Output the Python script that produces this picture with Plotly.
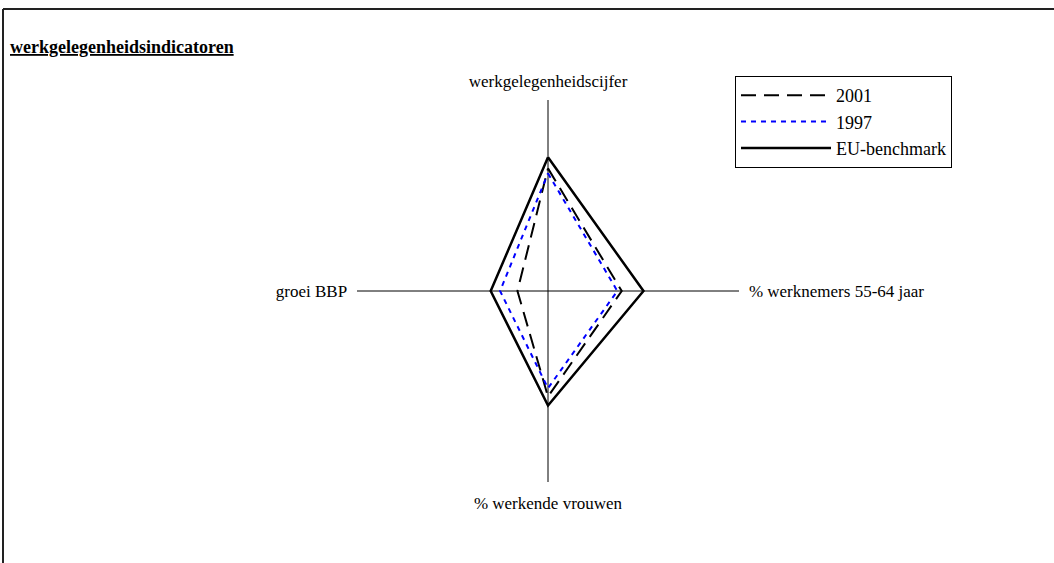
import plotly.graph_objects as go

categories = ["werkgelegenheidscijfer", "% werknemers 55-64 jaar", "% werkende vrouwen", "groei BBP"]
series_names = ["2001", "1997", "EU-benchmark"]
values_2001 = [64.2, 38.6, 55.3, 16.0]
values_1997 = [61.6, 36.3, 50.9, 25.1]
values_eu = [70, 50, 60, 30]
title_text = "werkgelegenheidsindicatoren"

FONT = "Liberation Serif, Times New Roman, serif"

styles = {
    "2001": dict(color="#000000", width=2, dash="15px,8px"),
    "1997": dict(color="#0000FF", width=2, dash="5px,5px"),
    "EU-benchmark": dict(color="#000000", width=2.5, dash="solid"),
}
data = {"2001": values_2001, "1997": values_1997, "EU-benchmark": values_eu}

fig = go.Figure()
for name in series_names:
    vals = data[name]
    fig.add_trace(go.Scatterpolar(
        r=vals + vals[:1],
        theta=categories + categories[:1],
        mode="lines",
        name=name,
        line=styles[name],
    ))

W, H = 1054, 563
cx, cy, rad = 548, 291, 191
fig.update_layout(
    width=W, height=H,
    margin=dict(l=0, r=0, t=0, b=0),
    paper_bgcolor="white",
    plot_bgcolor="white",
    font=dict(family=FONT, size=17, color="#000"),
    polar=dict(
        domain=dict(x=[(cx - rad) / W, (cx + rad) / W],
                    y=[(H - cy - rad) / H, (H - cy + rad) / H]),
        bgcolor="white",
        radialaxis=dict(visible=False, range=[0, 100]),
        angularaxis=dict(
            type="category",
            categoryarray=categories,
            rotation=90,
            direction="clockwise",
            showline=False,
            showgrid=True,
            gridcolor="#000",
            gridwidth=1,
            ticks="outside",
            ticklen=6,
            tickcolor="rgba(255,255,255,0)",
            tickfont=dict(family=FONT, size=17, color="#000"),
        ),
    ),
    showlegend=True,
    legend=dict(
        x=735 / W, y=1 - 76 / H, xanchor="left", yanchor="top",
        bordercolor="#000", borderwidth=1, bgcolor="white",
        font=dict(family=FONT, size=18, color="#000"),
        itemwidth=90,
        entrywidth=260,
        tracegroupgap=0,
    ),
    annotations=[dict(
        text="<b><u>" + title_text + "</u></b>",
        xref="paper", yref="paper", x=8 / W, y=1 - 47 / H,
        xanchor="left", yanchor="middle", showarrow=False,
        font=dict(family=FONT, size=18, color="#000"),
    )],
    shapes=[
        dict(type="line", xref="paper", yref="paper", x0=3 / W, x1=1, y0=1 - 9 / H, y1=1 - 9 / H,
             line=dict(color="#222", width=2)),
        dict(type="line", xref="paper", yref="paper", x0=3 / W, x1=3 / W, y0=0, y1=1 - 9 / H,
             line=dict(color="#222", width=2)),
    ],
)

fig.write_html("out.html", config={"displayModeBar": False},
               post_script="document.body.style.margin='0';")
